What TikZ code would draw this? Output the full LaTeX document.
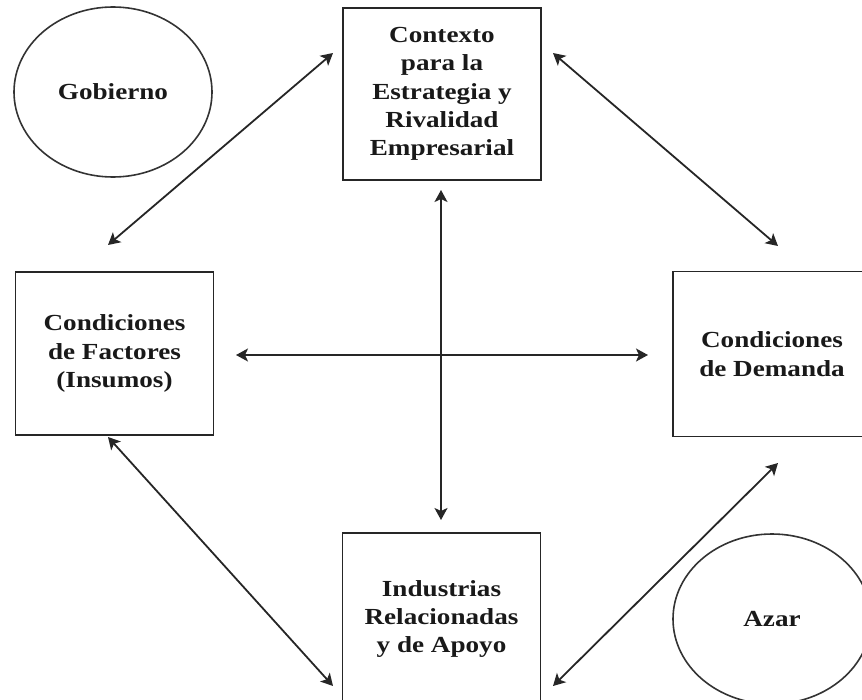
\documentclass[tikz,border=0pt]{standalone}
\usepackage{fontspec}
\setmainfont[FakeStretch=1.18]{Liberation Serif}
\usetikzlibrary{arrows.meta,shapes.geometric}
\begin{document}
\begin{tikzpicture}[x=1pt,y=-1pt,
  lbl/.style={font=\fontsize{23}{28.3}\selectfont\bfseries, align=center, text=black!90},
  box/.style={lbl, draw=black!85, line width=1.8pt, rectangle, inner sep=0pt,
    minimum width=198pt, minimum height=172pt},
  oval/.style={lbl, draw=black!80, line width=1.6pt, ellipse, inner sep=0pt,
    minimum width=198pt, minimum height=170pt},
  link/.style={draw=black!85, line width=1.8pt, {Stealth[length=12pt,width=13pt,inset=3pt]}-{Stealth[length=12pt,width=13pt,inset=3pt]}}]
  \useasboundingbox (0,0) rectangle (862,699);
  \clip (0,0) rectangle (862,699);

  % the four determinants
  \node[box] (ctx) at (442,94) {Contexto\\para la\\Estrategia y\\Rivalidad\\Empresarial};
  \node[box, minimum height=163pt] (fac) at (114.5,353.5) {Condiciones\\de Factores\\(Insumos)};
  \node[box, minimum height=165pt] (dem) at (772,354) {Condiciones\\de Demanda};
  \node[box] (ind) at (441.5,619) {Industrias\\Relacionadas\\y de Apoyo};

  % external influences
  \node[oval] (gob) at (113,92) {Gobierno};
  \node[oval] (azar) at (772,619) {Azar};

  % arrow end points
  \coordinate (c1) at (108,245);  \coordinate (c2) at (333,53);
  \coordinate (c3) at (553,53);   \coordinate (c4) at (778,246);
  \coordinate (c5) at (108,437);  \coordinate (c6) at (333,686);
  \coordinate (c7) at (778,463);  \coordinate (c8) at (553,686);
  \coordinate (v1) at (441,190);  \coordinate (v2) at (441,520);
  \coordinate (h1) at (236,355);  \coordinate (h2) at (648,355);

  \draw[link] (c1) -- (c2);
  \draw[link] (c3) -- (c4);
  \draw[link] (c5) -- (c6);
  \draw[link] (c7) -- (c8);
  \draw[link] (v1) -- (v2);
  \draw[link] (h1) -- (h2);
\end{tikzpicture}
\end{document}
